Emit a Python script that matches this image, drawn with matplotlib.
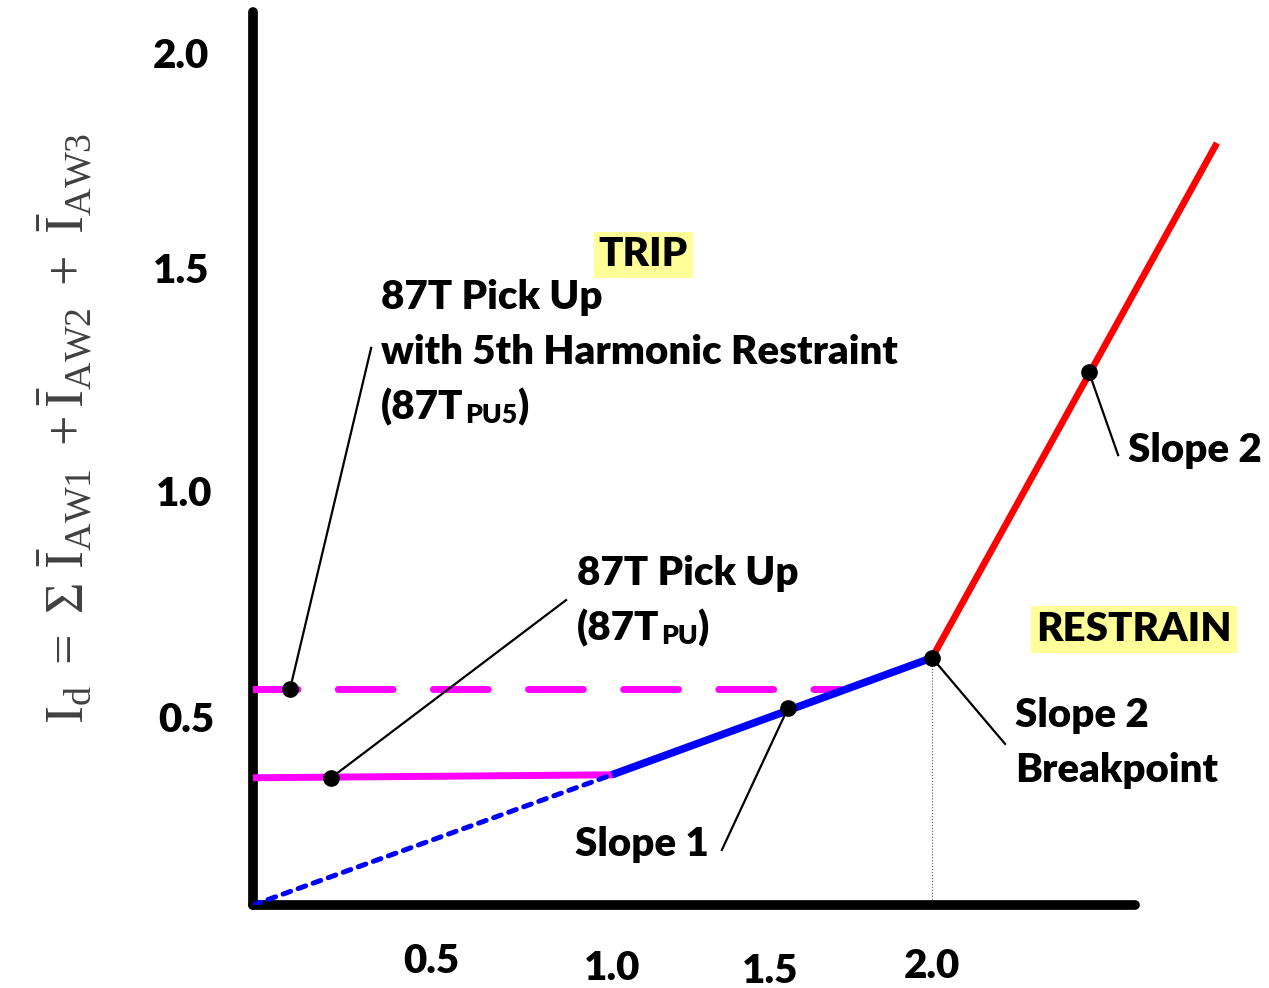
import numpy as np
import matplotlib
matplotlib.use("Agg")
import matplotlib.pyplot as plt

plt.rcParams['font.family'] = ['Lato', 'DejaVu Sans']
plt.rcParams['font.weight'] = 'bold'
plt.rcParams['mathtext.fontset'] = 'custom'
plt.rcParams['mathtext.rm'] = 'Liberation Serif:weight=normal'
plt.rcParams['mathtext.it'] = 'Liberation Serif:italic:weight=normal'
plt.rcParams['mathtext.bf'] = 'Liberation Serif:bold'

# characteristic (schematic, per unit)
slope1_x = [1.057, 2.0]
slope1_y = [0.307, 0.583]
slope2_x = [2.0, 2.839]
slope2_y = [0.583, 1.797]
origin_x = [0.0, 1.057]
origin_y = [0.0, 0.307]
pu_x = [0.0, 1.057]
pu_y = [0.300, 0.307]
pu5_x = [0.0, 1.729]
pu5_y = [0.509, 0.509]
break_x = 2.0
break_y = 0.583

# tick labels
xtick_vals = [0.524, 1.057, 1.523, 2.0]
xtick_offs = [-0.134, -0.149, -0.156, -0.144]
xtick_labels = ['0.5', '1.0', '1.5', '2.0']
ytick_vals = [2.0, 1.493, 0.967, 0.436]
ytick_offs = [-0.212, -0.212, -0.203, -0.197]
ytick_labels = ['2.0', '1.5', '1.0', '0.5']

# callouts: dot position, leader end
dot_x = [0.109, 0.230, 1.576, 2.0, 2.462]
dot_y = [0.509, 0.300, 0.465, 0.583, 1.257]
lead_x = [0.348, 0.922, 1.381, 2.215, 2.548]
lead_y = [1.314, 0.719, 0.130, 0.380, 1.061]

fig = plt.figure(figsize=(12.69, 9.88), dpi=100)
ax = fig.add_axes([253 / 1269, 83 / 988, 987 / 1269, 893 / 988])
ax.set_xlim(0, 2.907)
ax.set_ylim(0, 2.106)

for s in ['top', 'right']:
    ax.spines[s].set_visible(False)
for s in ['left', 'bottom']:
    ax.spines[s].set_linewidth(7)
    ax.spines[s].set_capstyle('round')
ax.spines['bottom'].set_bounds(0, 2.598)
ax.set_xticks([])
ax.set_yticks([])
ax.patch.set_alpha(0)

fs = 29
fw = 'heavy'

# lines
ax.plot(pu5_x, pu5_y, color='#FF00FF', lw=5, linestyle=(1.5, (7.9, 5.8)),
        dash_capstyle='round', zorder=3)
ax.plot(pu_x, pu_y, color='#FF00FF', lw=5, solid_capstyle='round', zorder=3)
ax.plot(origin_x, origin_y, color='#0000FF', lw=3.6, linestyle=(0, (1.6, 1.6)),
        dash_capstyle='round', zorder=3)
ax.plot(slope1_x, slope1_y, color='#0000FF', lw=5.5, solid_capstyle='butt', zorder=4)
ax.plot(slope2_x, slope2_y, color='#FF0000', lw=4.8, solid_capstyle='butt', zorder=4)
ax.plot([break_x, break_x], [0, break_y], color='#555555', lw=0.8, linestyle=':', zorder=2)

# leaders and dots
for dx, dy, lx, ly in zip(dot_x, dot_y, lead_x, lead_y):
    ax.plot([dx, lx], [dy, ly], color='black', lw=1.6, zorder=5, clip_on=False)
ax.plot(dot_x, dot_y, 'o', color='black', ms=11, zorder=6)

# labels
hl = dict(boxstyle='square,pad=0.12', facecolor='#FFFF99', edgecolor='none')
kw = dict(fontsize=fs, fontweight=fw, va='center')
ax.text(1.149, 1.533, 'TRIP', ha='center', bbox=hl, **kw)
ax.text(2.595, 0.649, 'RESTRAIN', ha='center', bbox=hl, **kw)
ax.text(0.377, 1.432, '87T Pick Up', **kw)
ax.text(0.377, 1.304, 'with 5th Harmonic Restraint', **kw)
ax.text(0.954, 0.781, '87T Pick Up', **kw)
ax.text(0.948, 0.142, 'Slope 1', **kw)
ax.text(2.577, 1.071, 'Slope 2', clip_on=False, **kw)
ax.text(2.244, 0.446, 'Slope 2', **kw)
ax.text(2.244, 0.318, 'Breakpoint', **kw)


def sub_label(x, y, sub):
    # "(87T" + small lowered subscript + ")"
    rend = fig.canvas.get_renderer()
    t = ax.text(x, y, '(87T', **kw)
    w1 = t.get_window_extent(rend).width * 72 / fig.dpi
    s = ax.annotate(sub, (x, y), xytext=(w1 + 1, -6), textcoords='offset points',
                    fontsize=fs * 0.66, fontweight=fw, va='center')
    w2 = s.get_window_extent(rend).width * 72 / fig.dpi
    ax.annotate(')', (x, y), xytext=(w1 + w2 + 1, 0), textcoords='offset points', **kw)


sub_label(0.377, 1.175, 'PU5')
sub_label(0.954, 0.653, 'PU')

for v, o, t in zip(xtick_vals, xtick_offs, xtick_labels):
    ax.text(v, o, t, ha='center', clip_on=False, **kw)
for v, o, t in zip(ytick_vals, ytick_offs, ytick_labels):
    ax.text(o, v, t, ha='center', clip_on=False, **kw)

fig.text(65 / 1269, 1 - 428 / 988,
         r'$\mathrm{I_d\ =\ \Sigma\ \bar{I}_{AW1}\ +\bar{I}_{AW2}\ +\ \bar{I}_{AW3}}$',
         fontsize=39, fontweight='normal', rotation=90, ha='center', va='center',
         color='#404040')

fig.savefig('out.png', dpi=100)
